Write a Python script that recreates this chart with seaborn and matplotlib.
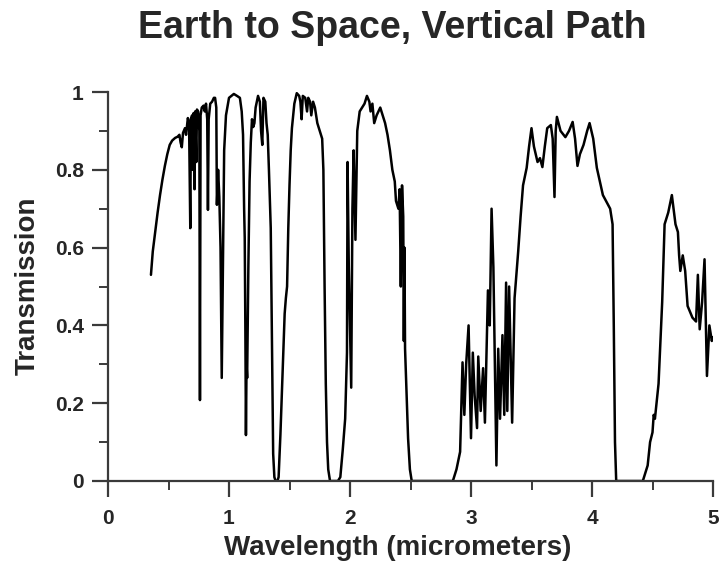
import matplotlib
matplotlib.use("Agg")
import matplotlib.pyplot as plt
from matplotlib.ticker import MultipleLocator
import pandas as pd
import seaborn as sns

# Atmospheric transmission spectrum, earth to space along a vertical path
wavelength_um = [
    0.355, 0.37, 0.39, 0.41, 0.43, 0.45, 0.47, 0.49, 0.51, 0.53, 0.555, 0.575,
    0.59, 0.60, 0.61, 0.62, 0.636, 0.645, 0.66, 0.67, 0.68, 0.685, 0.695, 0.70,
    0.705, 0.715, 0.72, 0.73, 0.735, 0.745, 0.755, 0.76, 0.765, 0.775, 0.79,
    0.80, 0.81, 0.82, 0.826, 0.832, 0.845, 0.86, 0.875, 0.885, 0.895, 0.90,
    0.91, 0.92, 0.93, 0.94, 0.95, 0.96, 0.975, 0.99, 1.00, 1.02, 1.04, 1.066,
    1.09, 1.105, 1.116, 1.125, 1.13, 1.135, 1.14, 1.145, 1.15, 1.16, 1.17,
    1.18, 1.19, 1.20, 1.21, 1.22, 1.24, 1.255, 1.265, 1.275, 1.285, 1.30,
    1.31, 1.32, 1.33, 1.345, 1.355, 1.365, 1.375, 1.385, 1.40, 1.41, 1.425,
    1.44, 1.45, 1.46, 1.47, 1.48, 1.49, 1.50, 1.51, 1.52, 1.54, 1.56, 1.58,
    1.59, 1.60, 1.61, 1.63, 1.645, 1.655, 1.67, 1.68, 1.695, 1.71, 1.73, 1.75,
    1.77, 1.78, 1.79, 1.80, 1.81, 1.82, 1.835, 1.90, 1.92, 1.94, 1.96, 1.975,
    1.98, 1.99, 2.01, 2.02, 2.03, 2.045, 2.06, 2.08, 2.10, 2.12, 2.14, 2.16,
    2.17, 2.185, 2.20, 2.22, 2.25, 2.27, 2.29, 2.31, 2.33, 2.35, 2.37, 2.38,
    2.40, 2.41, 2.42, 2.43, 2.44, 2.445, 2.45, 2.455, 2.47, 2.48, 2.495, 2.51,
    2.85, 2.88, 2.91, 2.93, 2.945, 2.96, 2.98, 2.99, 3.00, 3.015, 3.03, 3.05,
    3.06, 3.08, 3.10, 3.115, 3.14, 3.155, 3.17, 3.185, 3.21, 3.225, 3.24,
    3.26, 3.275, 3.29, 3.30, 3.315, 3.34, 3.36, 3.39, 3.41, 3.43, 3.46, 3.48,
    3.50, 3.52, 3.55, 3.57, 3.59, 3.61, 3.63, 3.66, 3.675, 3.69, 3.70, 3.71,
    3.74, 3.78, 3.81, 3.84, 3.86, 3.88, 3.90, 3.93, 3.96, 3.98, 4.01, 4.04,
    4.09, 4.15, 4.17, 4.18, 4.19, 4.20, 4.42, 4.46, 4.48, 4.50, 4.51, 4.52,
    4.55, 4.58, 4.60, 4.63, 4.66, 4.69, 4.71, 4.72, 4.73, 4.75, 4.77, 4.79,
    4.83, 4.86, 4.875, 4.89, 4.91, 4.93, 4.95, 4.97, 4.99, 5.00,
]
transmission = [
    0.53, 0.59, 0.64, 0.69, 0.735, 0.775, 0.81, 0.84, 0.864, 0.875, 0.882, 0.885,
    0.89, 0.87, 0.858, 0.895, 0.907, 0.89, 0.933, 0.92, 0.65, 0.93, 0.94, 0.80,
    0.945, 0.75, 0.95, 0.82, 0.955, 0.95, 0.90, 0.208, 0.94, 0.96, 0.965,
    0.95, 0.97, 0.93, 0.697, 0.93, 0.97, 0.975, 0.985, 0.985, 0.96, 0.71,
    0.80, 0.73, 0.60, 0.265, 0.55, 0.85, 0.94, 0.967, 0.985, 0.99, 0.995, 0.99,
    0.985, 0.95, 0.89, 0.70, 0.625, 0.40, 0.118, 0.30, 0.265, 0.55, 0.77,
    0.87, 0.93, 0.91, 0.92, 0.96, 0.99, 0.975, 0.90, 0.864, 0.985, 0.975,
    0.92, 0.89, 0.80, 0.65, 0.35, 0.07, 0.01, 0.0, 0.0, 0.01, 0.12,
    0.25, 0.33, 0.43, 0.47, 0.50, 0.65, 0.76, 0.85, 0.907, 0.97, 0.997, 0.99,
    0.975, 0.93, 0.99, 0.985, 0.95, 0.985, 0.975, 0.94, 0.975, 0.96, 0.92, 0.90,
    0.88, 0.80, 0.50, 0.25, 0.10, 0.03, 0.0, 0.0, 0.01, 0.08, 0.16, 0.33,
    0.82, 0.55, 0.24, 0.70, 0.85, 0.62, 0.90, 0.95, 0.96, 0.97, 0.99, 0.975,
    0.95, 0.97, 0.92, 0.94, 0.96, 0.94, 0.92, 0.89, 0.85, 0.80, 0.77, 0.72,
    0.70, 0.75, 0.50, 0.76, 0.68, 0.36, 0.60, 0.34, 0.20, 0.11, 0.03, 0.0,
    0.0, 0.03, 0.075, 0.305, 0.17, 0.30, 0.40, 0.25, 0.11, 0.33, 0.22, 0.136,
    0.32, 0.18, 0.29, 0.15, 0.49, 0.40, 0.70, 0.55, 0.04, 0.34, 0.16,
    0.375, 0.17, 0.51, 0.18, 0.50, 0.15, 0.47, 0.59, 0.68, 0.76, 0.805, 0.86,
    0.907, 0.86, 0.82, 0.83, 0.807, 0.86, 0.907, 0.915, 0.88, 0.73, 0.90, 0.936,
    0.90, 0.884, 0.90, 0.923, 0.88, 0.81, 0.84, 0.864, 0.90, 0.92, 0.88, 0.805,
    0.735, 0.70, 0.66, 0.40, 0.10, 0.0, 0.0, 0.04, 0.10, 0.125, 0.17, 0.16,
    0.25, 0.46, 0.66, 0.69, 0.735, 0.66, 0.64, 0.58, 0.54, 0.58, 0.54, 0.45,
    0.42, 0.41, 0.53, 0.39, 0.46, 0.57, 0.27, 0.40, 0.36, 0.37,
]
x_ticks = [0, 1, 2, 3, 4, 5]
y_ticks = [0, 0.2, 0.4, 0.6, 0.8, 1]
y_tick_labels = ["0", "0.2", "0.4", "0.6", "0.8", "1"]

df = pd.DataFrame({"wavelength": wavelength_um, "transmission": transmission})

sns.set_style("ticks")
plt.rcParams["font.family"] = ["Liberation Sans", "DejaVu Sans"]

fig = plt.figure(figsize=(7.2, 5.63), dpi=100)
ax = fig.add_axes([108 / 720, 82 / 563, 605 / 720, 389 / 563])

sns.lineplot(data=df, x="wavelength", y="transmission", ax=ax,
             color="black", linewidth=1.8, sort=False, estimator=None)

ax.set_xlim(0, 5)
ax.set_ylim(0, 1)
ax.set_xticks(x_ticks)
ax.set_xticklabels([str(t) for t in x_ticks])
ax.set_yticks(y_ticks)
ax.set_yticklabels(y_tick_labels)
ax.xaxis.set_minor_locator(MultipleLocator(0.5))
ax.yaxis.set_minor_locator(MultipleLocator(0.1))

spine_color = "#3a3a3a"
for side in ("top", "right"):
    ax.spines[side].set_visible(False)
for side in ("left", "bottom"):
    ax.spines[side].set_color(spine_color)
    ax.spines[side].set_linewidth(1.6)

ax.tick_params(which="major", direction="out", length=11.5, width=1.6,
               color=spine_color, labelsize=15)
ax.tick_params(axis="x", which="major", pad=9)
ax.tick_params(axis="y", which="major", pad=6)
ax.tick_params(which="minor", direction="out", length=6.5, width=1.4,
               color=spine_color)
for lbl in ax.get_xticklabels() + ax.get_yticklabels():
    lbl.set_fontweight("bold")

ax.set_xlabel("")
ax.set_ylabel("")
fig.text(398 / 720, 1 - 548 / 563, "Wavelength (micrometers)", ha="center",
         va="center", fontsize=20, fontweight="bold")
fig.text(28 / 720, 1 - 286 / 563, "Transmission", ha="center", va="center",
         rotation=90, fontsize=20, fontweight="bold")
fig.text(392 / 720, 1 - 28 / 563, "Earth to Space, Vertical Path",
         ha="center", va="center", fontsize=27, fontweight="bold")

fig.savefig("out.png", dpi=100)
